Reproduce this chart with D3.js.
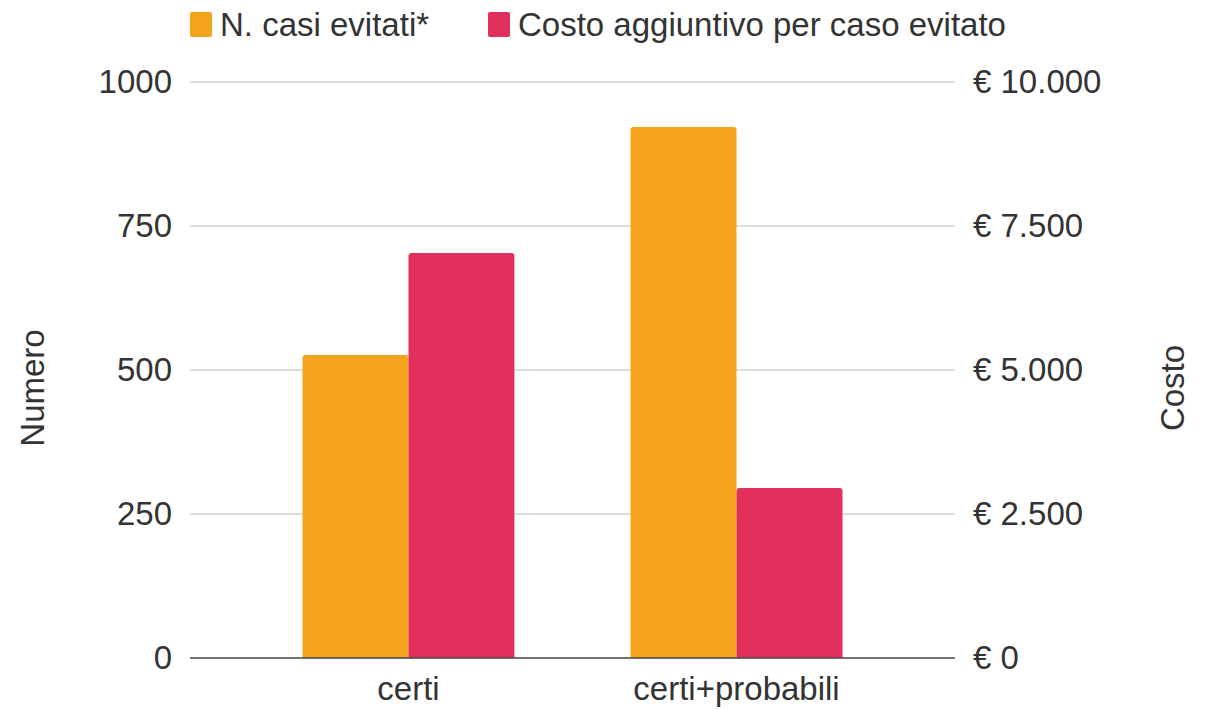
<!DOCTYPE html>
<html lang="it">
<head>
<meta charset="UTF-8">
<script src="https://cdnjs.cloudflare.com/ajax/libs/d3/7.8.5/d3.min.js"></script>
<title>Casi evitati</title>
<style>
  body { margin: 0; background: #fff; }
  text { font-family: "Liberation Sans", Arial, sans-serif; fill: #333; }
</style>
</head>
<body>
<div id="chart"></div>
<script>
// data
let categories = ["certi", "certi+probabili"];
let casiEvitati = [526, 922];          // left axis (Numero)
let costoPerCaso = [7030, 2950];       // right axis (Costo, euro)
let leftTicks = [0, 250, 500, 750, 1000];
let rightTicks = [0, 2500, 5000, 7500, 10000];
let seriesNames = ["N. casi evitati*", "Costo aggiuntivo per caso evitato"];
let seriesColors = ["#f3a31d", "#e2305d"];

let width = 1208, height = 709;
let plotLeft = 190, plotRight = 955, plotTop = 82, plotBottom = 658;
let fontSize = 33;

let svg = d3.select("#chart").append("svg")
  .attr("width", width).attr("height", height);

let itLocale = d3.formatLocale({decimal: ",", thousands: ".", grouping: [3], currency: ["€ ", ""]});
let euro = itLocale.format("$,.0f");

let x0 = d3.scaleBand().domain(categories).range([plotLeft, plotRight])
  .paddingInner(0.354).paddingOuter(0.343);
let x1 = d3.scaleBand().domain([0, 1]).range([0, x0.bandwidth()]);
let yL = d3.scaleLinear().domain([0, 1000]).range([plotBottom, plotTop]);
let yR = d3.scaleLinear().domain([0, 10000]).range([plotBottom, plotTop]);

// gridlines
svg.append("g").selectAll("line")
  .data(leftTicks.slice(1))
  .enter().append("line")
  .attr("x1", plotLeft).attr("x2", plotRight)
  .attr("y1", d => yL(d)).attr("y2", d => yL(d))
  .attr("stroke", "#d0d0d0").attr("stroke-width", 1.5);

// bars
let rows = categories.map((c, i) => ({cat: c, vals: [
  {s: 0, y: yL(casiEvitati[i])},
  {s: 1, y: yR(costoPerCaso[i])}
]}));

svg.append("g").selectAll("g")
  .data(rows)
  .enter().append("g")
  .attr("transform", d => "translate(" + x0(d.cat) + ",0)")
  .selectAll("path")
  .data(d => d.vals)
  .enter().append("path")
  .attr("fill", d => seriesColors[d.s])
  .attr("d", d => {
    let x = x1(d.s), w = x1.bandwidth(), r = 3;
    return "M" + x + "," + plotBottom +
      "V" + (d.y + r) + "Q" + x + "," + d.y + " " + (x + r) + "," + d.y +
      "H" + (x + w - r) + "Q" + (x + w) + "," + d.y + " " + (x + w) + "," + (d.y + r) +
      "V" + plotBottom + "Z";
  });

// baseline
svg.append("line")
  .attr("x1", plotLeft).attr("x2", plotRight)
  .attr("y1", plotBottom).attr("y2", plotBottom)
  .attr("stroke", "#444").attr("stroke-width", 1.5);

// axes
let axL = svg.append("g").attr("transform", "translate(" + plotLeft + ",0)")
  .call(d3.axisLeft(yL).tickValues(leftTicks).tickSize(0).tickPadding(18).tickFormat(d3.format("d")));
let axR = svg.append("g").attr("transform", "translate(" + plotRight + ",0)")
  .call(d3.axisRight(yR).tickValues(rightTicks).tickSize(0).tickPadding(18).tickFormat(euro));
let axX = svg.append("g").attr("transform", "translate(0," + plotBottom + ")")
  .call(d3.axisBottom(x0).tickSize(0).tickPadding(19));
[axL, axR, axX].forEach(a => {
  a.select(".domain").remove();
  a.selectAll("text").attr("font-size", fontSize).attr("fill", "#333")
    .attr("font-family", "Liberation Sans, Arial, sans-serif");
});

// axis titles
svg.append("text").attr("transform", "translate(44,388) rotate(-90)")
  .attr("text-anchor", "middle").attr("font-size", fontSize).text("Numero");
svg.append("text").attr("transform", "translate(1184,388) rotate(-90)")
  .attr("text-anchor", "middle").attr("font-size", fontSize).text("Costo");

// legend
let legendX = [190, 488];
let lg = svg.append("g").selectAll("g")
  .data(seriesNames)
  .enter().append("g")
  .attr("transform", (d, i) => "translate(" + legendX[i] + ",12)");
lg.append("rect").attr("width", 22).attr("height", 25).attr("rx", 2)
  .attr("fill", (d, i) => seriesColors[i]);
lg.append("text").attr("x", 30).attr("y", 24).attr("font-size", fontSize).text(d => d);
</script>
</body>
</html>
